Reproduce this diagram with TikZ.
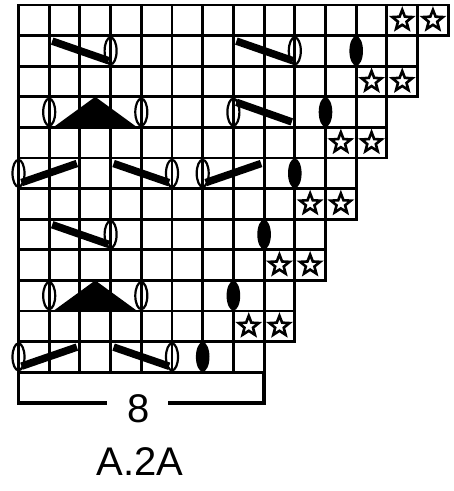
\documentclass[tikz,border=0pt]{standalone}
\usepackage{fontspec}
\setmainfont{Liberation Sans}
\begin{document}
\begin{tikzpicture}[x=1pt,y=-1pt,
  gridline/.style={line width=2.9pt, line join=miter},
  knitbar/.style={line width=7.5pt, line cap=butt},
  yoval/.style={line width=2.2pt},
  starmark/.style={line width=2.6pt, line join=miter},
  bracketline/.style={line width=3.4pt, line join=miter},
  lbl/.style={font=\fontsize{40}{40}\selectfont, inner sep=0pt, anchor=base}]
\useasboundingbox (0,0) rectangle (454,491);
% grid
\foreach \r in {1,...,12} {
  \pgfmathtruncatemacro\nc{14-floor(\r/2)}
  \foreach \c in {1,...,\nc} {
    \draw[gridline] ({18.5+30.7*(\c-1)},{5+30.6*(\r-1)}) rectangle ++(30.7,30.6);
  }
}
% stars
\foreach \j in {0,...,5} {
  \foreach \c in {13,14} {
    \draw[starmark, shift={({18.5+30.7*(\c-\j-0.5)},{5+30.6*(2*\j+0.5)})}]
      (-90:10.5) -- (-54:4.5) -- (-18:10.5) -- (18:4.5) -- (54:10.5) -- (90:4.5)
      -- (126:10.5) -- (162:4.5) -- (198:10.5) -- (234:4.5) -- cycle;
  }
}
% black ovals
\foreach \j in {1,...,6} {
  \fill ({18.5+30.7*(12-\j)},{5+30.6*(2*\j-0.5)}) ellipse (6.8 and 14.8);
}
% bars
\foreach \xa/\ya/\xb/\yb in {
  52.2/41.1/108.6/60.7, 236.4/41.1/292.8/60.7,
  236.4/102.3/291.8/121.9,
  21.5/182.6/76.9/163.5, 113.6/163.5/169/182.6, 205.7/182.6/261.1/163.5,
  52.2/224.7/108.6/244.3,
  21.5/366.2/76.9/347.1, 113.6/347.1/169/366.2} {
  \draw[knitbar] (\xa,\ya) -- (\xb,\yb);
}
% triangles
\foreach \yt/\yb in {96.8/127.4, 280.4/311} {
  \fill (53.2,\yb) -- (95.25,\yt) -- (137.3,\yb) -- cycle;
}
% open ovals (yarn overs)
\foreach \k/\r in {3/2, 9/2, 1/4, 4/4, 7/4, 0/6, 5/6, 6/6, 3/8, 1/10, 4/10, 0/12, 5/12} {
  \draw[yoval] ({18.5+30.7*\k},{5+30.6*(\r-0.5)}) ellipse (6 and 13.5);
}
% bracket
\draw[bracketline] (18.5,372.2) -- (18.5,403) -- (107,403);
\draw[bracketline] (168,403) -- (264.1,403) -- (264.1,372.2);
\node[lbl] (count) at (139,422) {8};
\node[lbl] (chartname) at (140,475) {A.2A};
\end{tikzpicture}
\end{document}
